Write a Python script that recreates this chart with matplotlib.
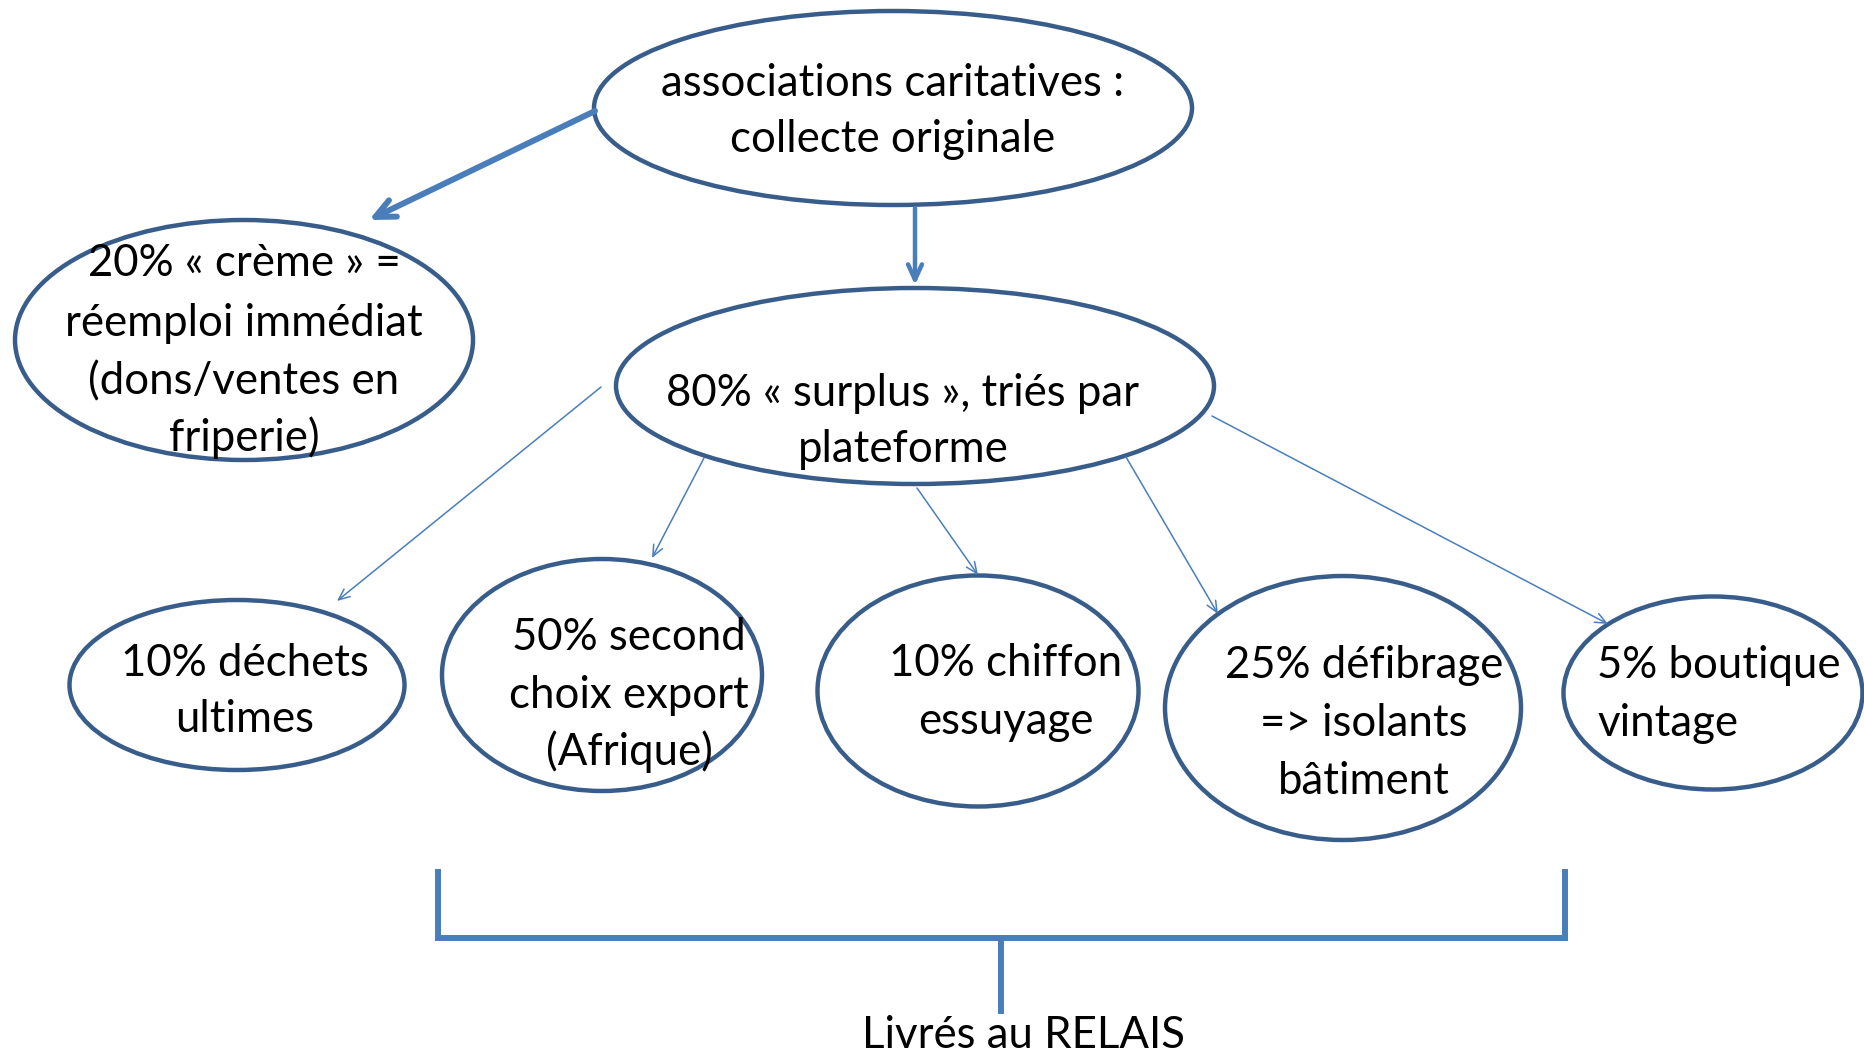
import matplotlib
matplotlib.use("Agg")
import matplotlib.pyplot as plt
from matplotlib.patches import Ellipse

# ---- data ----
top_label = ["associations caritatives :", "collecte originale"]
creme_label = ["20% « crème » =", "réemploi immédiat", "(dons/ventes en", "friperie)"]
surplus_label = ["80% « surplus », triés par", "plateforme"]
outlet_labels = [
    ["10% déchets", "ultimes"],
    ["50% second", "choix export", "(Afrique)"],
    ["10% chiffon", "essuyage"],
    ["25% défibrage", "=> isolants", "bâtiment"],
    ["5% boutique", "vintage"],
]
bottom_label = "Livrés au RELAIS"

# ---- layout ----
W, H = 1865, 1064
EDGE = "#385d8a"
ARROW = "#4a7ebb"
FONT = "Lato"
FS = 31.5
DY = 4

fig = plt.figure(figsize=(W / 100, H / 100), dpi=100)
ax = fig.add_axes([0, 0, 1, 1])
ax.set_xlim(0, W)
ax.set_ylim(H, 0)
ax.axis("off")


def ell(cx, cy, w, h):
    ax.add_patch(Ellipse((cx, cy), w, h, facecolor="white", edgecolor=EDGE,
                         linewidth=3.2, zorder=2))


def lines(x, ys, texts, ha="center"):
    for y, t in zip(ys, texts):
        ax.text(x, y + DY, t, ha=ha, va="center", fontsize=FS, family=FONT,
                color="black", zorder=4)


def arrow(x0, y0, x1, y1, lw, hl, hw):
    ax.annotate("", xy=(x1, y1), xytext=(x0, y0),
                arrowprops=dict(arrowstyle=f"->,head_length={hl},head_width={hw}",
                                color=ARROW, lw=lw, shrinkA=0, shrinkB=0,
                                capstyle="round", joinstyle="round"),
                zorder=3)


# ellipses
ell(893, 108, 598, 194)
ell(244, 340, 458, 240)
ell(915, 386, 598, 196)
outlet_geom = [(237, 685, 335, 170), (602, 675, 320, 232), (978, 691, 321, 231),
               (1343, 708, 356, 264), (1713, 693, 299, 193)]
for g in outlet_geom:
    ell(*g)

# texts
lines(893, [80, 136], top_label)
lines(244, [260, 319, 378, 434], creme_label)
lines(903, [389, 445], surplus_label)
lines(245, [659, 716], outlet_labels[0])
lines(629, [634, 691, 748], outlet_labels[1])
lines(1006, [659, 717], outlet_labels[2])
lines(1364, [662, 720, 777], outlet_labels[3])
lines(1597, [662, 720], outlet_labels[4], ha="left")

# arrows
arrow(595, 111, 369, 220, 4.3, 1.4, 0.65)
arrow(915, 208, 915, 285, 3.2, 1.1, 0.5)
arrow(601, 387, 337, 601, 1.1, 0.8, 0.35)
arrow(704, 458, 652, 558, 1.1, 0.8, 0.35)
arrow(917, 488, 978, 575, 1.1, 0.8, 0.35)
arrow(1126, 457, 1218, 614, 1.1, 0.8, 0.35)
arrow(1212, 416, 1608, 624, 1.1, 0.8, 0.35)

# bracket
ax.plot([438, 438, 1565, 1565], [872, 938, 938, 872], color=ARROW, lw=4.3,
        solid_joinstyle="miter", zorder=3)
ax.plot([1001, 1001], [938, 1011], color=ARROW, lw=4.3, zorder=3)
ax.text(1023, 1036, bottom_label, ha="center", va="center", fontsize=FS,
        family=FONT, color="black")

fig.savefig("out.png", dpi=100)
